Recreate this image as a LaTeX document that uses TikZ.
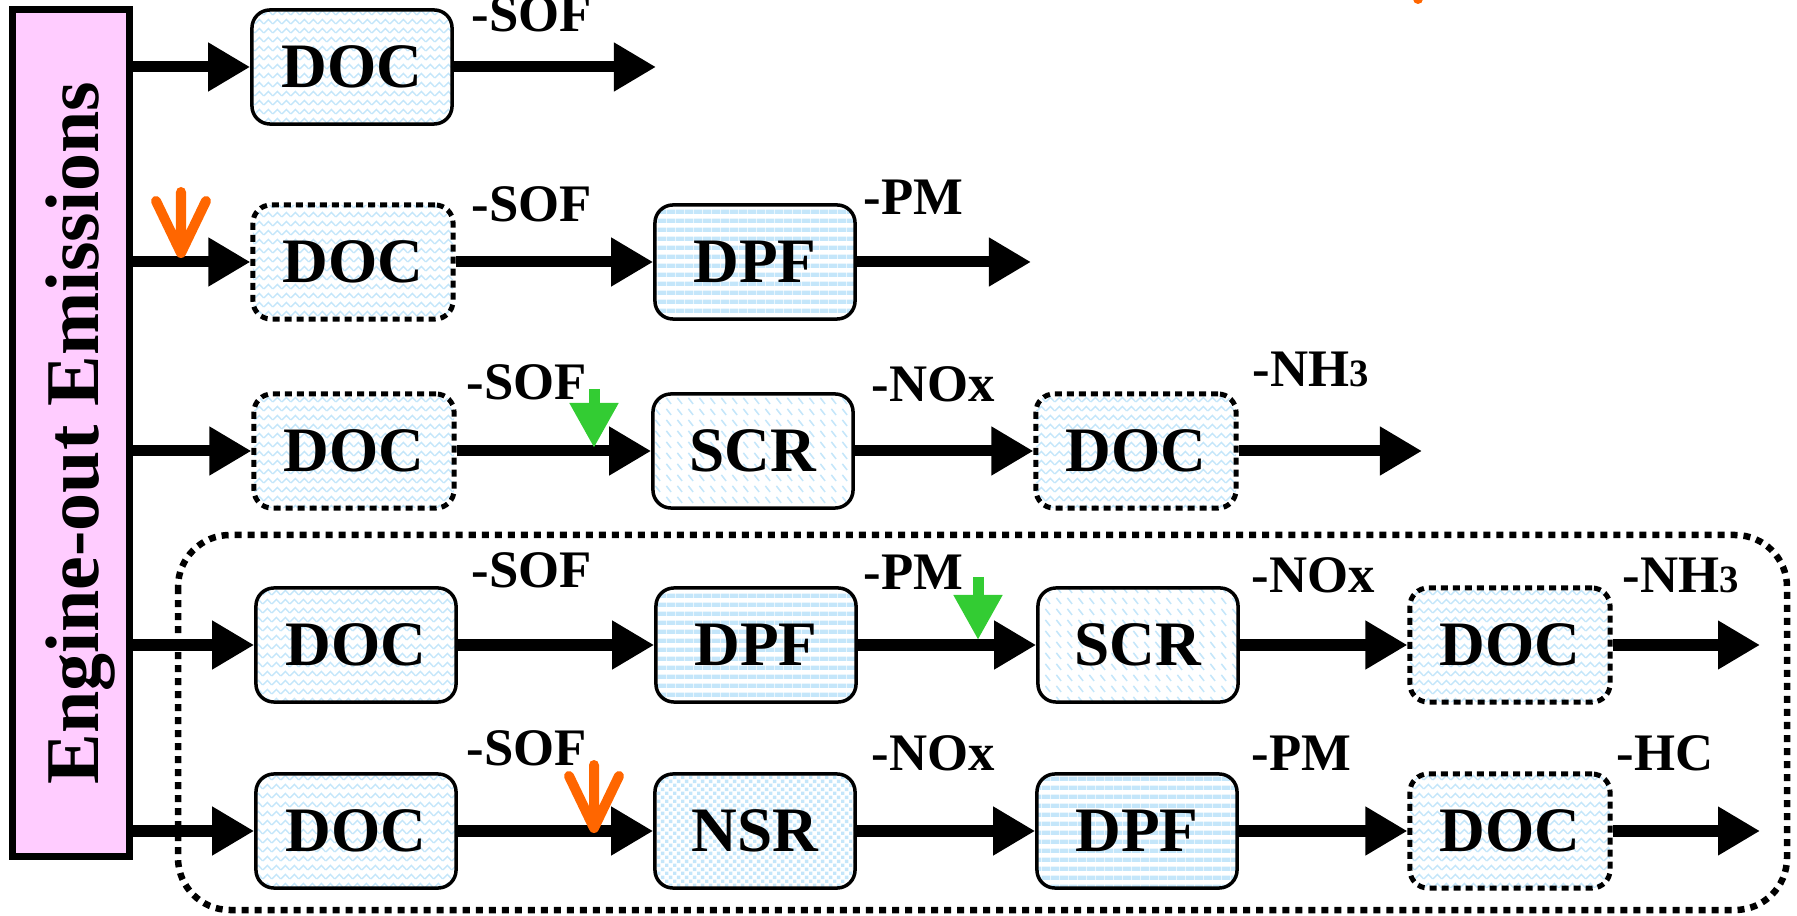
\documentclass[tikz,border=0pt]{standalone}
\usepackage{fontspec}
\setmainfont{Liberation Serif}
\usetikzlibrary{arrows.meta,patterns}
\definecolor{padblue}{RGB}{196,230,250}
\definecolor{emispink}{RGB}{255,204,255}
\definecolor{ureagreen}{RGB}{51,204,51}
\definecolor{fuelorange}{RGB}{255,102,0}

% fill patterns of the catalysts
\pgfdeclarepatternformonly{doczigzag}{\pgfqpoint{0pt}{0pt}}{\pgfqpoint{2.5pt}{2.5pt}}{\pgfqpoint{2.5pt}{2.5pt}}{%
  \pgfsetlinewidth{0.4pt}
  \pgfpathmoveto{\pgfqpoint{0pt}{0.6pt}}
  \pgfpathlineto{\pgfqpoint{1.25pt}{1.9pt}}
  \pgfpathlineto{\pgfqpoint{2.5pt}{0.6pt}}
  \pgfusepath{stroke}}
\pgfdeclarepatternformonly{dpfstripes}{\pgfqpoint{0pt}{0pt}}{\pgfqpoint{2.6pt}{2.6pt}}{\pgfqpoint{2.6pt}{2.6pt}}{%
  \pgfpathrectangle{\pgfqpoint{0pt}{0pt}}{\pgfqpoint{2.6pt}{1.35pt}}
  \pgfusepath{fill}}
\pgfdeclarepatternformonly{scrhatch}{\pgfqpoint{0pt}{0pt}}{\pgfqpoint{3pt}{3pt}}{\pgfqpoint{3pt}{3pt}}{%
  \pgfsetlinewidth{0.45pt}
  \pgfpathmoveto{\pgfqpoint{0.4pt}{2.4pt}}
  \pgfpathlineto{\pgfqpoint{1.8pt}{0.6pt}}
  \pgfusepath{stroke}}
\pgfdeclarepatternformonly{nsrdots}{\pgfqpoint{0pt}{0pt}}{\pgfqpoint{2.4pt}{2.4pt}}{\pgfqpoint{2.4pt}{2.4pt}}{%
  \pgfpathrectangle{\pgfqpoint{0pt}{0pt}}{\pgfqpoint{1pt}{1pt}}
  \pgfpathrectangle{\pgfqpoint{1.2pt}{1.2pt}}{\pgfqpoint{1pt}{1pt}}
  \pgfusepath{fill}}

\begin{document}
\begin{tikzpicture}[x=0.01cm,y=-0.01cm,
  cat/.style={rounded corners=0.18cm,minimum width=2cm,minimum height=1.14cm,inner sep=0pt,
    font=\fontsize{18pt}{20pt}\selectfont\bfseries},
  solidcat/.style={cat,draw,line width=0.035cm},
  dotcat/.style={cat,draw,line width=0.05cm,dash pattern=on 0.07cm off 0.05cm},
  doc/.style={pattern=doczigzag,pattern color=padblue},
  dpf/.style={pattern=dpfstripes,pattern color=padblue},
  scr/.style={pattern=scrhatch,pattern color=padblue},
  nsr/.style={pattern=nsrdots,pattern color=padblue},
  flow/.style={line width=0.11cm,-{Triangle[length=0.42cm,width=0.46cm]}},
  lbl/.style={anchor=base west,inner sep=0pt,font=\fontsize{15pt}{17pt}\selectfont\bfseries},
  fuel/.style={fuelorange,line width=0.1cm,line cap=round,line join=round},
  urea/.style={ureagreen,line width=0.11cm,-{Triangle[length=0.45cm,width=0.46cm]}}]
  \useasboundingbox (0,0) rectangle (1797,916);

  % engine-out box
  \node[draw,line width=0.07cm,fill=emispink,minimum width=1.17cm,minimum height=8.47cm,inner sep=0pt]
    (emis) at (71,433) {\rotatebox{90}{\raisebox{-0.27cm}[0pt][0pt]{\fontsize{21.6pt}{24pt}\selectfont\bfseries Engine-out Emissions}}};

  % combined systems
  \draw[line width=0.065cm,dash pattern=on 0.07cm off 0.06cm,rounded corners=0.52cm]
    (178,535) rectangle (1787,910);

  % row 1
  \node[solidcat,doc] (r1doc) at (352,67) {DOC};
  \coordinate (r1end) at (656,67);
  \draw[flow] (emis.east |- r1doc.west) -- (r1doc.west);
  \draw[flow] (r1doc.east) -- (r1end);
  \node[lbl] (r1sof) at (471,32) {-SOF};

  % row 2
  \node[dotcat,doc] (r2doc) at (353,262) {DOC};
  \node[solidcat,dpf] (r2dpf) at (755,262) {DPF};
  \coordinate (r2end) at (1031,262);
  \draw[flow] (emis.east |- r2doc.west) -- (r2doc.west);
  \draw[flow] (r2doc.east) -- (r2dpf.west);
  \draw[flow] (r2dpf.east) -- (r2end);
  \node[lbl] (r2sof) at (471,222) {-SOF};
  \node[lbl] (r2pm) at (863,215) {-PM};
  \coordinate (r2inj) at (181,253);
  \draw[fuel] (r2inj) ++(0,-61) -- (r2inj) (r2inj) ++(-25,-52) -- (r2inj) -- ++(25,-52);

  % row 3
  \node[dotcat,doc] (r3doc) at (354,451) {DOC};
  \node[solidcat,scr] (r3scr) at (753,451) {SCR};
  \node[dotcat,doc] (r3doc2) at (1136,451) {DOC};
  \coordinate (r3end) at (1422,451);
  \draw[flow] (emis.east |- r3doc.west) -- (r3doc.west);
  \draw[flow] (r3doc.east) -- (r3scr.west);
  \draw[flow] (r3scr.east) -- (r3doc2.west);
  \draw[flow] (r3doc2.east) -- (r3end);
  \node[lbl] (r3sof) at (466,400) {-SOF};
  \node[lbl] (r3nox) at (871,402) {-NOx};
  \node[lbl] (r3nh) at (1252,387) {-NH{\fontsize{11pt}{12pt}\selectfont 3}};
  \coordinate (r3inj) at (594,448);
  \draw[urea] (r3inj) ++(0,-59) -- (r3inj);

  % row 4
  \node[solidcat,doc] (r4doc) at (356,645) {DOC};
  \node[solidcat,dpf] (r4dpf) at (756,645) {DPF};
  \node[solidcat,scr] (r4scr) at (1138,645) {SCR};
  \node[dotcat,doc] (r4doc2) at (1510,645) {DOC};
  \coordinate (r4end) at (1760,645);
  \draw[flow] (emis.east |- r4doc.west) -- (r4doc.west);
  \draw[flow] (r4doc.east) -- (r4dpf.west);
  \draw[flow] (r4dpf.east) -- (r4scr.west);
  \draw[flow] (r4scr.east) -- (r4doc2.west);
  \draw[flow] (r4doc2.east) -- (r4end);
  \node[lbl] (r4sof) at (471,588) {-SOF};
  \node[lbl] (r4pm) at (863,590) {-PM};
  \node[lbl] (r4nox) at (1251,593) {-NOx};
  \node[lbl] (r4nh) at (1622,593) {-NH{\fontsize{11pt}{12pt}\selectfont 3}};
  \coordinate (r4inj) at (978,640);
  \draw[urea] (r4inj) ++(0,-63) -- (r4inj);

  % row 5
  \node[solidcat,doc] (r5doc) at (356,831) {DOC};
  \node[solidcat,nsr] (r5nsr) at (755,831) {NSR};
  \node[solidcat,dpf] (r5dpf) at (1137,831) {DPF};
  \node[dotcat,doc] (r5doc2) at (1510,831) {DOC};
  \coordinate (r5end) at (1760,831);
  \draw[flow] (emis.east |- r5doc.west) -- (r5doc.west);
  \draw[flow] (r5doc.east) -- (r5nsr.west);
  \draw[flow] (r5nsr.east) -- (r5dpf.west);
  \draw[flow] (r5dpf.east) -- (r5doc2.west);
  \draw[flow] (r5doc2.east) -- (r5end);
  \node[lbl] (r5sof) at (466,765) {-SOF};
  \node[lbl] (r5nox) at (871,770) {-NOx};
  \node[lbl] (r5pm) at (1251,770) {-PM};
  \node[lbl] (r5hc) at (1616,770) {-HC};
  \coordinate (r5inj) at (594,828);
  \draw[fuel] (r5inj) ++(0,-63) -- (r5inj) (r5inj) ++(-25,-52) -- (r5inj) -- ++(25,-52);

  % cut-off mark at the top edge
  \fill[fuelorange] (1418,-1) circle[radius=0.05cm];
\end{tikzpicture}
\end{document}
